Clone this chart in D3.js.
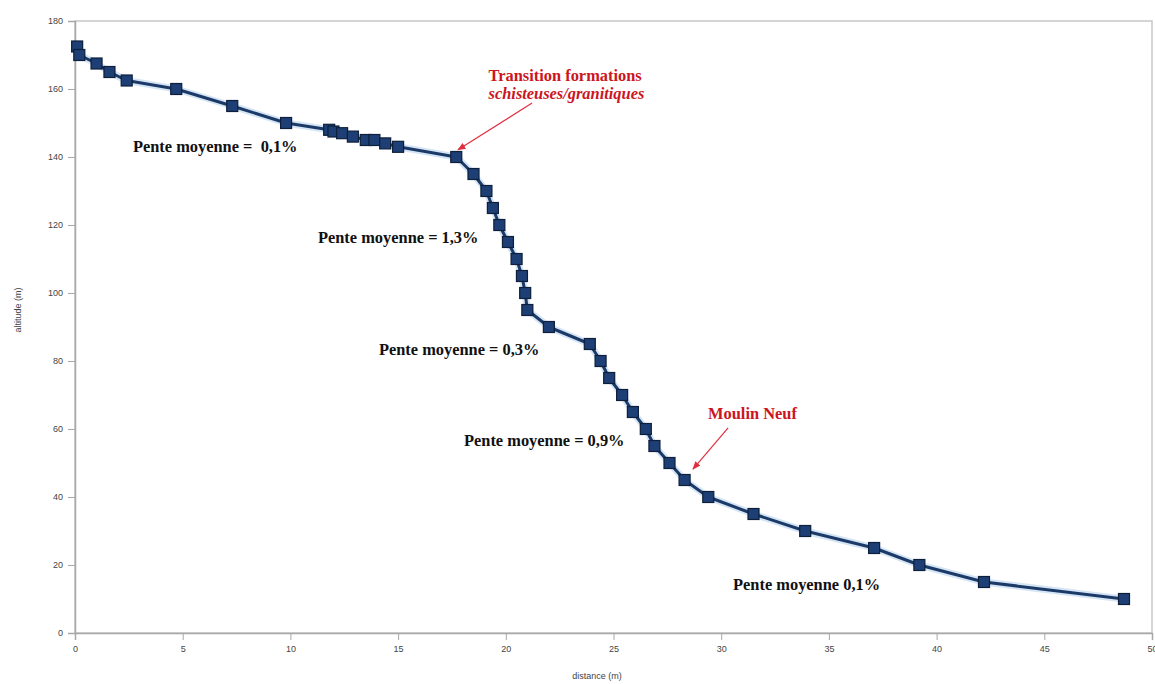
<!DOCTYPE html>
<html>
<head>
<meta charset="utf-8">
<script src="https://cdn.jsdelivr.net/npm/d3@7"></script>
<style>
  body { margin: 0; background: #fff; }
  svg { display: block; }
  .note { font-family: "Liberation Serif", "Times New Roman", serif; font-weight: bold; font-size: 16.4px; white-space: pre; }
  .tick text { font-family: "Liberation Sans", Arial, sans-serif; font-size: 9px; fill: #444; }
  .axis-title { font-family: "Liberation Sans", Arial, sans-serif; font-size: 9px; fill: #444; }
</style>
</head>
<body>
<svg id="svg" width="1155" height="684"></svg>
<script>
// distance (km) / altitude (m)
const distance = [0.1, 0.2, 1.0, 1.6, 2.4, 4.7, 7.3, 9.8, 11.8, 12.0, 12.4, 12.9, 13.5, 13.9, 14.4, 15.0,
  17.7, 18.5, 19.1, 19.4, 19.7, 20.1, 20.5, 20.75, 20.9, 21.0, 22.0, 23.9, 24.4, 24.8, 25.4, 25.9,
  26.5, 26.9, 27.6, 28.3, 29.4, 31.5, 33.9, 37.1, 39.2, 42.2, 48.7];
const altitude = [172.5, 170, 167.5, 165, 162.5, 160, 155, 150, 148, 147.5, 147, 146, 145, 145, 144, 143,
  140, 135, 130, 125, 120, 115, 110, 105, 100, 95, 90, 85, 80, 75, 70, 65,
  60, 55, 50, 45, 40, 35, 30, 25, 20, 15, 10];

const xTicks = [0, 5, 10, 15, 20, 25, 30, 35, 40, 45, 50];
const yTicks = [0, 20, 40, 60, 80, 100, 120, 140, 160, 180];

const slopeLabels = ["Pente moyenne =  0,1%", "Pente moyenne = 1,3%", "Pente moyenne = 0,3%", "Pente moyenne = 0,9%", "Pente moyenne 0,1%"];
const slopeAt = [[2.69, 141.5], [11.28, 114.7], [14.11, 81.8], [18.06, 55.0], [30.55, 12.6]];

const calloutLabels = [["Transition formations", "schisteuses/granitiques"], ["Moulin Neuf"]];
const calloutAt = [[19.2, 162.3], [29.39, 62.9]];
const arrowFrom = [[21.22, 155.9], [30.32, 60.3]];
const arrowTo = [[17.78, 142.1], [28.69, 48.2]];

const svg = d3.select("#svg");
const padding = { left: 75, right: 3, top: 21, bottom: 51 };
const width = +svg.attr("width") - padding.left - padding.right;
const height = +svg.attr("height") - padding.top - padding.bottom;

const x = d3.scaleLinear().domain([0, 50]).range([0, width]);
const y = d3.scaleLinear().domain([0, 180]).range([height, 0]);

const g = svg.append("g").attr("transform", "translate(" + padding.left + "," + padding.top + ")");

// plot frame
g.append("rect").attr("width", width).attr("height", height)
  .attr("fill", "none").attr("stroke", "#c8c8c8").attr("stroke-width", 1.5);

const xAxis = g.append("g").attr("transform", "translate(0," + height + ")")
  .call(d3.axisBottom(x).tickValues(xTicks).tickSize(7).tickPadding(6));
const yAxis = g.append("g")
  .call(d3.axisLeft(y).tickValues(yTicks).tickSize(7).tickPadding(5));
[xAxis, yAxis].forEach(a => {
  a.select(".domain").attr("stroke", "#a8a8a8").attr("stroke-width", 1.5);
  a.selectAll(".tick line").attr("stroke", "#a8a8a8");
});

svg.append("text").attr("class", "axis-title")
  .attr("x", 597).attr("y", 679).attr("text-anchor", "middle").text("distance (m)");
svg.append("text").attr("class", "axis-title")
  .attr("transform", "translate(21,310) rotate(-90)").attr("text-anchor", "middle").text("altitude (m)");

const pts = distance.map((d, i) => [d, altitude[i]]);
const line = d3.line().x(d => x(d[0])).y(d => y(d[1]));

g.append("path").datum(pts).attr("d", line)
  .attr("fill", "none").attr("stroke", "#b9d3ee").attr("stroke-width", 7).attr("stroke-opacity", 0.6)
  .attr("stroke-linejoin", "round");
g.append("path").datum(pts).attr("d", line)
  .attr("fill", "none").attr("stroke", "#1c3a68").attr("stroke-width", 3)
  .attr("stroke-linejoin", "round");

g.selectAll("rect.pt").data(pts).enter().append("rect")
  .attr("class", "pt")
  .attr("x", d => x(d[0]) - 5.5)
  .attr("y", d => y(d[1]) - 5.5)
  .attr("width", 11).attr("height", 11)
  .attr("fill", "#1d3f75").attr("stroke", "#0d1f3a").attr("stroke-width", 1.2);

// slope notes
g.selectAll("text.slope").data(slopeLabels).enter().append("text")
  .attr("class", "note")
  .attr("x", (d, i) => x(slopeAt[i][0]))
  .attr("y", (d, i) => y(slopeAt[i][1]))
  .attr("fill", "#111")
  .text(d => d);

// red callouts
svg.append("defs").append("marker")
  .attr("id", "head").attr("viewBox", "0 0 10 10").attr("refX", 9).attr("refY", 5)
  .attr("markerWidth", 7).attr("markerHeight", 7).attr("orient", "auto")
  .append("path").attr("d", "M0,1 L10,5 L0,9 Z").attr("fill", "#e0303f");

calloutLabels.forEach((lines, i) => {
  lines.forEach((t, j) => {
    g.append("text").attr("class", "note")
      .attr("x", x(calloutAt[i][0]))
      .attr("y", y(calloutAt[i][1]) + j * 18)
      .attr("fill", "#cc1522")
      .attr("font-style", j === 1 ? "italic" : "normal")
      .text(t);
  });
  g.append("line")
    .attr("x1", x(arrowFrom[i][0])).attr("y1", y(arrowFrom[i][1]))
    .attr("x2", x(arrowTo[i][0])).attr("y2", y(arrowTo[i][1]))
    .attr("stroke", "#e0303f").attr("stroke-width", 1.2)
    .attr("marker-end", "url(#head)");
});
</script>
</body>
</html>
